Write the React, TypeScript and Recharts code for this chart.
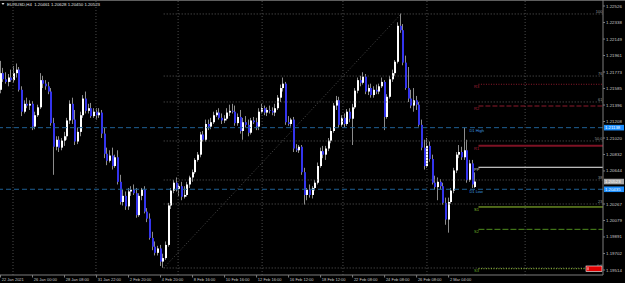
import React from "react";
import { ComposedChart, Bar, XAxis, YAxis, ReferenceLine, ReferenceDot, Customized } from "recharts";

// EURUSD H4 candles (left to right)
const opens = [
  1.2157, 1.2176, 1.2169, 1.2166, 1.2171, 1.2168, 1.2176, 1.2180, 1.2157, 1.2132,
  1.2141, 1.2139, 1.2141, 1.2115, 1.2128, 1.2137, 1.2168, 1.2164, 1.2161, 1.2155,
  1.2119, 1.2092, 1.2100, 1.2091, 1.2099, 1.2104, 1.2122, 1.2141, 1.2123, 1.2098,
  1.2109, 1.2128, 1.2147, 1.2133, 1.2136, 1.2127, 1.2132, 1.2128, 1.2131, 1.2107,
  1.2084, 1.2076, 1.2082, 1.2070, 1.2080, 1.2052, 1.2029, 1.2036, 1.2024, 1.2041,
  1.2043, 1.2039, 1.2014, 1.2036, 1.2043, 1.2018, 1.2010, 1.1988, 1.1978, 1.1971,
  1.1976, 1.1961, 1.1965, 1.1980, 1.2025, 1.2042, 1.2051, 1.2044, 1.2047, 1.2035,
  1.2037, 1.2049, 1.2057, 1.2063, 1.2077, 1.2083, 1.2106, 1.2100, 1.2118, 1.2115,
  1.2120, 1.2128, 1.2131, 1.2125, 1.2122, 1.2124, 1.2131, 1.2133, 1.2132, 1.2119,
  1.2126, 1.2110, 1.2120, 1.2117, 1.2108, 1.2122, 1.2120, 1.2115, 1.2132, 1.2136,
  1.2131, 1.2134, 1.2133, 1.2131, 1.2136, 1.2148, 1.2159, 1.2164, 1.2120, 1.2118,
  1.2123, 1.2090, 1.2088, 1.2092, 1.2063, 1.2037, 1.2043, 1.2037, 1.2045, 1.2051,
  1.2070, 1.2087, 1.2083, 1.2090, 1.2099, 1.2110, 1.2139, 1.2145, 1.2117, 1.2125,
  1.2118, 1.2132, 1.2124, 1.2137, 1.2156, 1.2168, 1.2165, 1.2172, 1.2155, 1.2159,
  1.2151, 1.2157, 1.2155, 1.2161, 1.2166, 1.2126, 1.2149, 1.2169, 1.2176, 1.2189,
  1.2230, 1.2225, 1.2188, 1.2159, 1.2147, 1.2139, 1.2145, 1.2140, 1.2117, 1.2091,
  1.2070, 1.2093, 1.2078, 1.2051, 1.2046, 1.2052, 1.2047, 1.2028, 1.2009, 1.2029,
  1.2042, 1.2065, 1.2083, 1.2086, 1.2080, 1.2088, 1.2054, 1.2073, 1.20461,
];
const highs = [
  1.2190, 1.2182, 1.2177, 1.2175, 1.2180, 1.2184, 1.2187, 1.2183, 1.2161, 1.2145,
  1.2148, 1.2145, 1.2144, 1.2132, 1.2140, 1.2176, 1.2173, 1.2168, 1.2166, 1.2159,
  1.2125, 1.2104, 1.2104, 1.2102, 1.2109, 1.2125, 1.2145, 1.2148, 1.2134, 1.2114,
  1.2132, 1.2151, 1.2155, 1.2141, 1.2142, 1.2136, 1.2136, 1.2136, 1.2134, 1.2114,
  1.2091, 1.2088, 1.2091, 1.2083, 1.2088, 1.2060, 1.2043, 1.2041, 1.2045, 1.2047,
  1.2049, 1.2045, 1.2039, 1.2045, 1.2047, 1.2022, 1.2016, 1.1995, 1.1984, 1.1979,
  1.1980, 1.1970, 1.1984, 1.2028, 1.2045, 1.2054, 1.2057, 1.2050, 1.2052, 1.2047,
  1.2052, 1.2059, 1.2066, 1.2079, 1.2086, 1.2109, 1.2110, 1.2123, 1.2123, 1.2125,
  1.2132, 1.2134, 1.2136, 1.2130, 1.2128, 1.2136, 1.2140, 1.2141, 1.2139, 1.2130,
  1.2134, 1.2125, 1.2127, 1.2123, 1.2125, 1.2126, 1.2125, 1.2136, 1.2141, 1.2139,
  1.2137, 1.2139, 1.2137, 1.2141, 1.2151, 1.2163, 1.2171, 1.2166, 1.2127, 1.2125,
  1.2126, 1.2095, 1.2094, 1.2094, 1.2068, 1.2045, 1.2049, 1.2047, 1.2054, 1.2074,
  1.2091, 1.2093, 1.2093, 1.2102, 1.2114, 1.2142, 1.2150, 1.2149, 1.2128, 1.2130,
  1.2135, 1.2136, 1.2141, 1.2159, 1.2171, 1.2173, 1.2177, 1.2175, 1.2163, 1.2164,
  1.2161, 1.2163, 1.2164, 1.2171, 1.2168, 1.2152, 1.2173, 1.2180, 1.2191, 1.2234,
  1.2244, 1.2232, 1.2196, 1.2183, 1.2157, 1.2159, 1.2150, 1.2143, 1.2123, 1.2100,
  1.2102, 1.2098, 1.2083, 1.2059, 1.2057, 1.2055, 1.2051, 1.2034, 1.2034, 1.2045,
  1.2068, 1.2086, 1.2094, 1.2092, 1.2114, 1.2100, 1.2077, 1.2077, 1.20628,
];
const lows = [
  1.2153, 1.2166, 1.2164, 1.2161, 1.2166, 1.2165, 1.2171, 1.2155, 1.2127, 1.2130,
  1.2136, 1.2134, 1.2111, 1.2112, 1.2126, 1.2135, 1.2159, 1.2157, 1.2152, 1.2116,
  1.2060, 1.2088, 1.2086, 1.2088, 1.2093, 1.2100, 1.2118, 1.2118, 1.2094, 1.2095,
  1.2104, 1.2125, 1.2130, 1.2130, 1.2125, 1.2125, 1.2123, 1.2125, 1.2102, 1.2079,
  1.2071, 1.2074, 1.2066, 1.2068, 1.2049, 1.2026, 1.2025, 1.2020, 1.2020, 1.2036,
  1.2037, 1.2011, 1.2012, 1.2031, 1.2016, 1.2006, 1.1986, 1.1974, 1.1968, 1.1968,
  1.1956, 1.1954, 1.1963, 1.1978, 1.2021, 1.2039, 1.2041, 1.2036, 1.2031, 1.2033,
  1.2035, 1.2045, 1.2052, 1.2061, 1.2075, 1.2080, 1.2098, 1.2098, 1.2111, 1.2112,
  1.2118, 1.2126, 1.2123, 1.2118, 1.2119, 1.2122, 1.2127, 1.2130, 1.2116, 1.2116,
  1.2107, 1.2100, 1.2114, 1.2104, 1.2106, 1.2118, 1.2111, 1.2111, 1.2130, 1.2128,
  1.2127, 1.2130, 1.2128, 1.2127, 1.2134, 1.2143, 1.2155, 1.2117, 1.2116, 1.2115,
  1.2086, 1.2086, 1.2085, 1.2060, 1.2026, 1.2031, 1.2034, 1.2033, 1.2042, 1.2049,
  1.2068, 1.2079, 1.2077, 1.2087, 1.2096, 1.2108, 1.2134, 1.2114, 1.2115, 1.2114,
  1.2116, 1.2120, 1.2094, 1.2135, 1.2153, 1.2161, 1.2163, 1.2152, 1.2151, 1.2148,
  1.2148, 1.2152, 1.2152, 1.2159, 1.2111, 1.2124, 1.2147, 1.2166, 1.2173, 1.2187,
  1.2222, 1.2185, 1.2157, 1.2143, 1.2136, 1.2132, 1.2134, 1.2115, 1.2088, 1.2066,
  1.2068, 1.2075, 1.2049, 1.2043, 1.2031, 1.2043, 1.2026, 1.2003, 1.1994, 1.2027,
  1.2039, 1.2062, 1.2079, 1.2077, 1.2077, 1.2051, 1.2052, 1.2045, 1.20450,
];
const closes = [
  1.2176, 1.2169, 1.2166, 1.2171, 1.2168, 1.2176, 1.2180, 1.2157, 1.2132, 1.2141,
  1.2139, 1.2141, 1.2115, 1.2128, 1.2137, 1.2168, 1.2164, 1.2161, 1.2155, 1.2119,
  1.2092, 1.2100, 1.2091, 1.2099, 1.2104, 1.2122, 1.2141, 1.2123, 1.2098, 1.2109,
  1.2128, 1.2147, 1.2133, 1.2136, 1.2127, 1.2132, 1.2128, 1.2131, 1.2107, 1.2084,
  1.2076, 1.2082, 1.2070, 1.2080, 1.2052, 1.2029, 1.2036, 1.2024, 1.2041, 1.2043,
  1.2039, 1.2014, 1.2036, 1.2043, 1.2018, 1.2010, 1.1988, 1.1978, 1.1971, 1.1976,
  1.1961, 1.1965, 1.1980, 1.2025, 1.2042, 1.2051, 1.2044, 1.2047, 1.2035, 1.2037,
  1.2049, 1.2057, 1.2063, 1.2077, 1.2083, 1.2106, 1.2100, 1.2118, 1.2115, 1.2120,
  1.2128, 1.2131, 1.2125, 1.2122, 1.2124, 1.2131, 1.2133, 1.2132, 1.2119, 1.2126,
  1.2110, 1.2120, 1.2117, 1.2108, 1.2122, 1.2120, 1.2115, 1.2132, 1.2136, 1.2131,
  1.2134, 1.2133, 1.2131, 1.2136, 1.2148, 1.2159, 1.2164, 1.2120, 1.2118, 1.2123,
  1.2090, 1.2088, 1.2092, 1.2063, 1.2037, 1.2043, 1.2037, 1.2045, 1.2051, 1.2070,
  1.2087, 1.2083, 1.2090, 1.2099, 1.2110, 1.2139, 1.2145, 1.2117, 1.2125, 1.2118,
  1.2132, 1.2124, 1.2137, 1.2156, 1.2168, 1.2165, 1.2172, 1.2155, 1.2159, 1.2151,
  1.2157, 1.2155, 1.2161, 1.2166, 1.2126, 1.2149, 1.2169, 1.2176, 1.2189, 1.2230,
  1.2225, 1.2188, 1.2159, 1.2147, 1.2139, 1.2145, 1.2140, 1.2117, 1.2091, 1.2070,
  1.2093, 1.2078, 1.2051, 1.2046, 1.2052, 1.2047, 1.2028, 1.2009, 1.2029, 1.2042,
  1.2065, 1.2083, 1.2086, 1.2080, 1.2088, 1.2054, 1.2073, 1.2049, 1.20523,
];

const symbol = "EURUSD,H4";

// time scale: a label every 12 bars
const timeTicks = [0, 12, 24, 36, 48, 60, 72, 84, 96, 108, 120, 132, 144, 156, 168];
const timeLabels = [
  "22 Jan 2021", "26 Jan 00:00", "28 Jan 08:00", "31 Jan 22:00", "2 Feb 20:00",
  "4 Feb 20:00", "8 Feb 16:00", "10 Feb 16:00", "12 Feb 16:00", "16 Feb 12:00",
  "18 Feb 12:00", "22 Feb 08:00", "24 Feb 08:00", "26 Feb 08:00", "2 Mar 04:00",
];
// 1.20455 sits under the D1 Low box in the screenshot, so it is not listed
const priceTicks = [
  1.22526, 1.22338, 1.22149, 1.21961, 1.21773, 1.21585, 1.21396, 1.21208, 1.2102,
  1.20832, 1.20644, 1.20267, 1.20079, 1.19891, 1.19702, 1.19514,
];
const gridBars = [4.5, 35.6, 66.4, 97.9, 128.2, 159.7, 196.5];

// fibonacci retracement drawn from the low bar to the high bar
const fibLabels = ["100", "76", "61", "50.0", "38", "23", "0.0"];
const fibPrices = [1.22435, 1.21727, 1.21431, 1.20986, 1.20541, 1.20267, 1.19537];
const fibLowBar = 61;
const fibHighBar = 150;

// daily pivots
const pivotNames = ["R3", "R2", "R1", "PP", "S1", "S2", "S3"];
const pivotPrices = [1.21633, 1.21385, 1.20932, 1.20686, 1.20233, 1.19978, 1.19529];
const pivotStartBar = 179;

const d1High = 1.21138;
const d1Low = 1.20435;
const d1LabelBar = 176;

const FONT = "'Liberation Sans', Arial, sans-serif";
const BULL = "#ffffff";
const BEAR = "#3434ee";
const WICK = "#8c8c8c";
const AXIS = "#7c7c7c";
const TEXT = "#c8c8c8";
const X_MIN = -0.375;
const X_MAX = 225.7;
const Y_MIN = 1.19457;
const Y_MAX = 1.225945;

const pivotStyle: Record<string, { stroke: string; width: number; dash?: string; text: string }> = {
  R3: { stroke: "#8e1a2c", width: 1, dash: "1 1.5", text: "#a8203a" },
  R2: { stroke: "#8e1a2c", width: 1, dash: "5 2", text: "#a8203a" },
  R1: { stroke: "#7e1224", width: 2, text: "#a8203a" },
  PP: { stroke: "#f2f2f2", width: 1, text: "#d0d0d0" },
  S1: { stroke: "#9acd32", width: 1, text: "#8cc232" },
  S2: { stroke: "#4f8c1e", width: 1, dash: "6 2", text: "#6aa82a" },
  S3: { stroke: "#9acd32", width: 1, dash: "1 1.5", text: "#6aa82a" },
};

const candles = opens.map((o, i) => ({ i, o, h: highs[i], l: lows[i], c: closes[i] }));

function Candle(props: any) {
  const { x, y, width, height, payload } = props;
  if (x == null || !payload) return null;
  const { o, h, l, c } = payload;
  const top = Math.min(y, y + height);
  const bottom = Math.max(y, y + height);
  const span = h - l || 1e-9;
  const py = (p: number) => top + ((h - p) / span) * (bottom - top);
  const cx = Math.round(x + width / 2);
  const yo = py(o);
  const yc = py(c);
  const bodyTop = Math.min(yo, yc);
  const bodyH = Math.max(Math.abs(yc - yo), 0.8);
  return (
    <g>
      <line x1={cx - 0.5} x2={cx - 0.5} y1={top} y2={bottom} stroke={WICK} strokeWidth={1} />
      <rect x={cx - 1} y={bodyTop} width={2} height={bodyH} fill={c >= o ? BULL : BEAR} />
    </g>
  );
}

const TimeTick = (p: any) => {
  const idx = timeTicks.indexOf(p.payload.value);
  return (
    <g>
      <line x1={p.x - 0.5} x2={p.x - 0.5} y1={p.y} y2={p.y + 2.5} stroke={AXIS} />
      <text x={p.x + 0.8} y={p.y + 4.2} fontSize={4} fill={TEXT} fontFamily={FONT} dominantBaseline="central">
        {timeLabels[idx]}
      </text>
    </g>
  );
};

const PriceTick = (p: any) => (
  <g>
    <line x1={p.x} x2={p.x + 2} y1={p.y} y2={p.y} stroke={AXIS} />
    <text x={p.x + 3} y={p.y} fontSize={4.4} fill={TEXT} fontFamily={FONT} dominantBaseline="central">
      {Number(p.payload.value).toFixed(5)}
    </text>
  </g>
);

// price box drawn on the right scale
const AxisBox = (props: any) => {
  const { viewBox, text, fill, color } = props;
  if (!viewBox) return null;
  const end = viewBox.x + viewBox.width;
  return (
    <g>
      <rect x={end + 1} y={viewBox.y - 2.8} width={20} height={5.6} fill={fill} />
      <text x={end + 2} y={viewBox.y} fontSize={4.3} fill={color} fontFamily={FONT} dominantBaseline="central">
        {text}
      </text>
    </g>
  );
};

const FibLabel = (props: any) => {
  const { viewBox, text } = props;
  if (!viewBox) return null;
  return (
    <text x={viewBox.x + viewBox.width - 0.5} y={viewBox.y - 0.6} textAnchor="end" fontSize={4} fill="#9a9a9a" fontFamily={FONT}>
      {text}
    </text>
  );
};

const PivotLabel = (props: any) => {
  const { viewBox, name, color, box } = props;
  if (!viewBox) return null;
  const end = viewBox.x + viewBox.width;
  const y = viewBox.y;
  return (
    <g>
      <text x={viewBox.x - 4.4} y={y + 0.6} fontSize={4} fill={color} fontFamily={FONT} dominantBaseline="hanging">
        {name}
      </text>
      {box && (
        <g>
          <rect x={end - 17} y={y - 2.7} width={16} height={5.4} fill="#e00000" stroke="#ffffff" strokeWidth={0.6} />
          <line x1={end - 15} x2={end - 15} y1={y - 1.5} y2={y + 1.5} stroke="#ffffff" strokeWidth={0.8} />
        </g>
      )}
    </g>
  );
};

const D1Label = (props: any) => {
  const { viewBox, text } = props;
  if (!viewBox) return null;
  return (
    <text x={viewBox.x - 1} y={viewBox.y + 0.8} fontSize={4} fill="#3d9be0" fontFamily={FONT} dominantBaseline="hanging">
      {text}
    </text>
  );
};

const Header = () => {
  const n = closes.length - 1;
  const text = `${symbol}  ${opens[n].toFixed(5)} ${highs[n].toFixed(5)} ${lows[n].toFixed(5)} ${closes[n].toFixed(5)}`;
  return (
    <g>
      <line x1={0} x2={625} y1={0.5} y2={0.5} stroke="#5e5e5e" />
      <path d="M1.5 3 L4.5 3 L3 5 Z" fill="#e0e0e0" />
      <text x={7} y={4.2} fontSize={4.3} fill="#e0e0e0" fontFamily={FONT} dominantBaseline="central" style={{ whiteSpace: "pre" }}>
        {text}
      </text>
    </g>
  );
};

export default function App() {
  const last = closes.length - 1;
  return (
    <div style={{ position: "absolute", left: 0, top: 0, width: 625, height: 283, background: "#000", overflow: "hidden" }}>
      <ComposedChart width={625} height={283} data={candles} margin={{ top: 0, right: 0, bottom: 0, left: 0 }}>
        <XAxis
          dataKey="i"
          type="number"
          domain={[X_MIN, X_MAX]}
          allowDataOverflow
          ticks={timeTicks}
          interval={0}
          height={8}
          tickSize={0}
          tickMargin={0}
          tickLine={false}
          axisLine={{ stroke: AXIS }}
          tick={TimeTick}
        />
        <YAxis
          orientation="right"
          type="number"
          domain={[Y_MIN, Y_MAX]}
          allowDataOverflow
          ticks={priceTicks}
          interval={0}
          width={22}
          tickSize={0}
          tickMargin={0}
          tickLine={false}
          axisLine={{ stroke: AXIS }}
          tick={PriceTick}
        />
        {gridBars.map((b) => (
          <ReferenceLine key={"g" + b} x={b} stroke="#4a4a4a" strokeDasharray="1 2" />
        ))}
        <ReferenceLine
          segment={[{ x: fibLowBar, y: fibPrices[6] }, { x: fibHighBar, y: fibPrices[0] }]}
          stroke="#4e4e4e"
          strokeDasharray="1 2"
        />
        {fibPrices.map((p, k) => (
          <ReferenceLine
            key={"f" + k}
            segment={[{ x: fibLowBar, y: p }, { x: X_MAX, y: p }]}
            stroke="#5c5c5c"
            strokeDasharray="1 2"
            label={<FibLabel text={fibLabels[k]} />}
          />
        ))}
        <ReferenceLine y={d1High} stroke="#1f5f94" strokeDasharray="5 3" label={<AxisBox text={d1High.toFixed(5)} fill="#1e90ff" color="#ffffff" />} />
        <ReferenceLine y={d1Low} stroke="#1f5f94" strokeDasharray="5 3" label={<AxisBox text={d1Low.toFixed(5)} fill="#1e90ff" color="#ffffff" />} />
        <ReferenceDot x={d1LabelBar} y={d1High} r={0} stroke="none" fill="none" label={<D1Label text="D1 High" />} />
        <ReferenceDot x={d1LabelBar} y={d1Low} r={0} stroke="none" fill="none" label={<D1Label text="D1 Low" />} />
        <Bar dataKey={(d: any) => [d.l, d.h]} barSize={2} shape={<Candle />} isAnimationActive={false} />
        {pivotNames.map((name, k) => {
          const s = pivotStyle[name];
          return (
            <ReferenceLine
              key={name}
              segment={[{ x: pivotStartBar, y: pivotPrices[k] }, { x: X_MAX, y: pivotPrices[k] }]}
              stroke={s.stroke}
              strokeWidth={s.width}
              strokeDasharray={s.dash}
              label={<PivotLabel name={name} color={s.text} box={name === "S3"} />}
            />
          );
        })}
        <ReferenceLine y={closes[last]} stroke="none" label={<AxisBox text={closes[last].toFixed(5)} fill="#a8a8a8" color="#ffffff" />} />
        <Customized component={Header} />
      </ComposedChart>
    </div>
  );
}
